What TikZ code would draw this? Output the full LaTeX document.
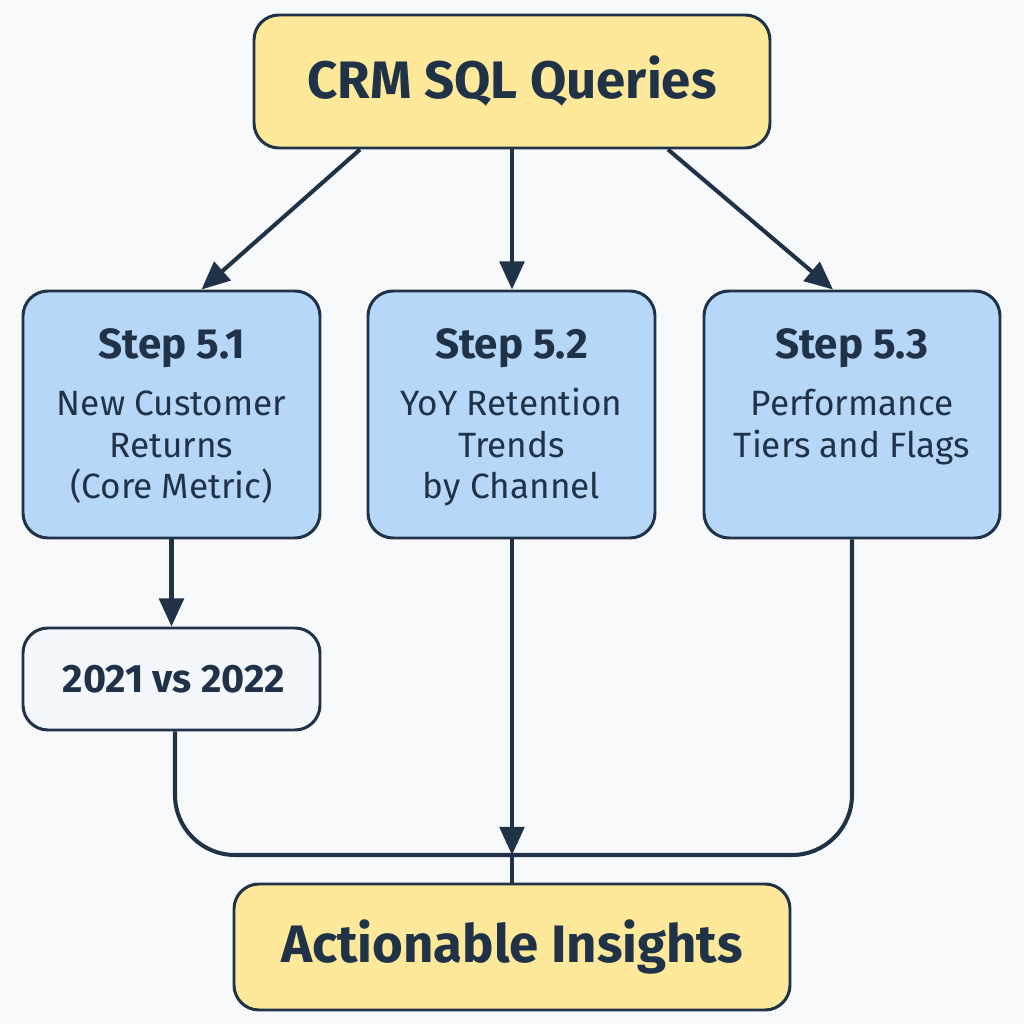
\documentclass[tikz,border=0pt]{standalone}
\usepackage{fontspec}
\setmainfont{Fira Sans}
\usetikzlibrary{arrows.meta}

\definecolor{ink}{HTML}{1F3247}
\definecolor{sandfill}{HTML}{FEE89A}
\definecolor{stepfill}{HTML}{B7D7F8}
\definecolor{notefill}{HTML}{F4F8FD}
\definecolor{paper}{HTML}{F8F9FA}

\tikzset{
  box/.style={draw=ink, line width=1.7pt, rounded corners=0.5cm, text=ink, align=center},
  endbox/.style={box, fill=sandfill, font=\fontsize{30}{36}\selectfont\bfseries},
  stepbox/.style={box, fill=stepfill, minimum width=5.94cm, minimum height=4.94cm},
  steptext/.style={anchor=north, text=ink, align=center, font=\fontsize{20}{23.5}\selectfont},
  link/.style={draw=ink, line width=2.3pt, -{Triangle[width=14pt,length=16pt]}},
  joint/.style={draw=ink, line width=2.3pt, rounded corners=1.2cm},
}

\begin{document}
\begin{tikzpicture}
% Page size and background
\fill[paper] (0,0) rectangle (20.48,20.48);

% Source and result
\node[endbox, minimum width=10.32cm, minimum height=2.66cm] (crm) at (10.24,18.85) {CRM SQL Queries};
\node[endbox, minimum width=11.12cm, minimum height=2.52cm] (act) at (10.24,1.54) {Actionable Insights};

% The three steps
\node[stepbox] (s1) at (3.43,12.19) {};
\node[stepbox, minimum width=5.74cm] (s2) at (10.23,12.19) {};
\node[stepbox, minimum width=5.92cm] (s3) at (17.04,12.19) {};
\node[steptext] (s1t) at ([yshift=-0.66cm]s1.north) {{\bfseries\fontsize{24}{28}\selectfont Step 5.1}\\[9pt] New Customer\\Returns\\(Core Metric)};
\node[steptext] (s2t) at ([yshift=-0.66cm]s2.north) {{\bfseries\fontsize{24}{28}\selectfont Step 5.2}\\[9pt] YoY Retention\\Trends\\by Channel};
\node[steptext] (s3t) at ([yshift=-0.66cm]s3.north) {{\bfseries\fontsize{24}{28}\selectfont Step 5.3}\\[9pt] Performance\\Tiers and Flags};

% Year comparison
\node[box, fill=notefill, minimum width=5.94cm, minimum height=2.04cm, font=\fontsize{22.5}{26}\selectfont\bfseries] (cmp) at (3.43,6.90) {\hspace{0.1cm}2021 vs 2022};

% Arrows
\draw[link] ([xshift=-3.04cm]crm.south) -- ([xshift=0.6cm]s1.north);
\draw[link] (crm.south) -- (crm.south |- s2.north);
\draw[link] ([xshift=3.12cm]crm.south) -- ([xshift=-0.38cm]s3.north);
\draw[link] (s1.south) -- (cmp.north);

% Merge into the result
\coordinate (merge) at (10.24,3.38);
\draw[joint] ([xshift=0.07cm]cmp.south) |- (merge);
\draw[joint] (s3.south) |- (merge);
\draw[link] (merge |- s2.south) -- (merge);
\draw[ink, line width=2.3pt] (merge) -- (act.north);
\end{tikzpicture}
\end{document}
